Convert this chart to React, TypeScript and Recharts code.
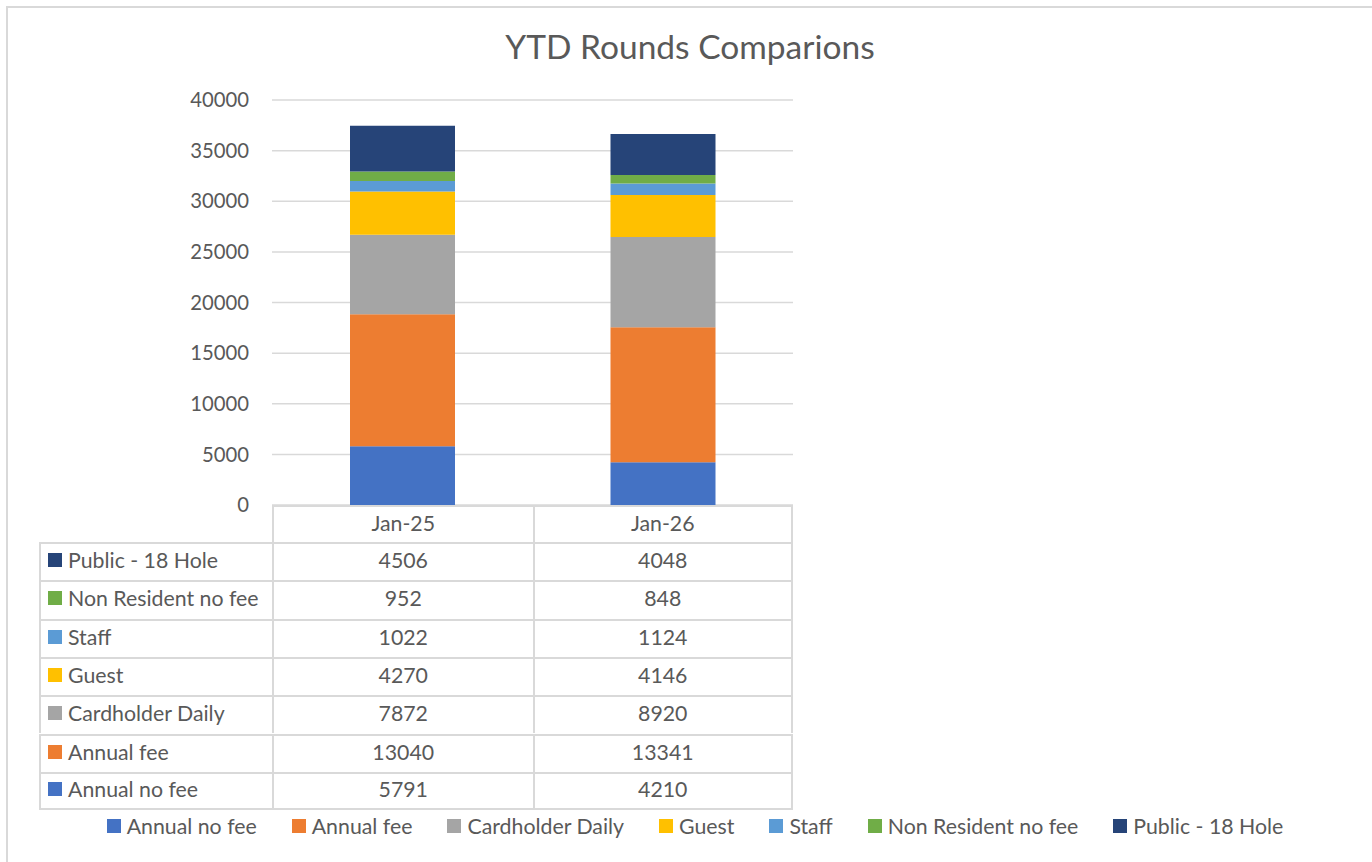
import { BarChart, Bar, XAxis, YAxis, CartesianGrid } from 'recharts'

const months = ['Jan-25', 'Jan-26']
const annualNoFee = [5791, 4210]
const annualFee = [13040, 13341]
const cardholderDaily = [7872, 8920]
const guest = [4270, 4146]
const staff = [1022, 1124]
const nonResident = [952, 848]
const public18 = [4506, 4048]
const yTicks = [0, 5000, 10000, 15000, 20000, 25000, 30000, 35000, 40000]

const series = [
  { key: 'annualNoFee', name: 'Annual no fee', values: annualNoFee, color: '#4472C4' },
  { key: 'annualFee', name: 'Annual fee', values: annualFee, color: '#ED7D31' },
  { key: 'cardholderDaily', name: 'Cardholder Daily', values: cardholderDaily, color: '#A5A5A5' },
  { key: 'guest', name: 'Guest', values: guest, color: '#FFC000' },
  { key: 'staff', name: 'Staff', values: staff, color: '#5B9BD5' },
  { key: 'nonResident', name: 'Non Resident no fee', values: nonResident, color: '#70AD47' },
  { key: 'public18', name: 'Public - 18 Hole', values: public18, color: '#264478' },
]

const data = months.map((m, i) => {
  const row: Record<string, string | number> = { month: m }
  series.forEach((s) => (row[s.key] = s.values[i]))
  return row
})

const FONT = 'Lato, "Open Sans", sans-serif'
const TEXT = '#595959'
const LINE = '#d9d9d9'

// data table geometry (below the plot)
const tLeft = 39
const tFirstCol = 233
const tCol = 260.5
const tTop = 505
const tHead = 37
const tRow = 38.3

const cellBase = { position: 'absolute' as const, boxSizing: 'border-box' as const, display: 'flex', alignItems: 'center', paddingBottom: 4 }

function DataTable() {
  const rows = [...series].reverse()
  const cells: any[] = []
  months.forEach((m, c) => {
    cells.push(
      <div key={'h' + c} style={{
        ...cellBase, left: tLeft + tFirstCol + c * tCol, top: tTop, width: tCol, height: tHead,
        borderLeft: `2px solid ${LINE}`, borderTop: `2px solid ${LINE}`, borderRight: c === months.length - 1 ? `2px solid ${LINE}` : undefined,
        justifyContent: 'center',
      }}>{m}</div>
    )
  })
  rows.forEach((s, r) => {
    const top = tTop + tHead + r * tRow
    const isLast = r === rows.length - 1
    cells.push(
      <div key={'l' + r} style={{
        ...cellBase, left: tLeft, top, width: tFirstCol, height: tRow,
        borderLeft: `2px solid ${LINE}`, borderTop: `2px solid ${LINE}`, borderBottom: isLast ? `2px solid ${LINE}` : undefined,
        paddingLeft: 7,
      }}>
        <span style={{ width: 14, height: 14, background: s.color, marginRight: 6, display: 'inline-block' }} />
        {s.name}
      </div>
    )
    s.values.forEach((v, c) => {
      cells.push(
        <div key={'c' + r + '-' + c} style={{
          ...cellBase, left: tLeft + tFirstCol + c * tCol, top, width: tCol, height: tRow,
          borderLeft: `2px solid ${LINE}`, borderTop: `2px solid ${LINE}`,
          borderRight: c === months.length - 1 ? `2px solid ${LINE}` : undefined,
          borderBottom: isLast ? `2px solid ${LINE}` : undefined,
          justifyContent: 'center',
        }}>{v}</div>
      )
    })
  })
  return <>{cells}</>
}

function ChartLegend() {
  return (
    <div style={{ position: 'absolute', top: 813, left: 0, width: 1390, display: 'flex', justifyContent: 'center', gap: 35 }}>
      {series.map((s) => (
        <div key={s.key} style={{ display: 'flex', alignItems: 'center' }}>
          <span style={{ width: 14, height: 14, background: s.color, marginRight: 6, display: 'inline-block' }} />
          {s.name}
        </div>
      ))}
    </div>
  )
}

export default function App() {
  return (
    <div style={{ position: 'absolute', left: 0, top: 0, width: 1372, height: 862, background: '#fff', overflow: 'hidden', fontFamily: FONT, color: TEXT, fontSize: 21.3 }}>
      <div style={{ position: 'absolute', left: 6, top: 6, width: 1400, height: 900, borderLeft: `2px solid ${LINE}`, borderTop: `2px solid ${LINE}` }} />
      <div style={{ position: 'absolute', left: 0, top: 26, width: 1380, textAlign: 'center', fontSize: 33.5 }}>YTD Rounds Comparions</div>
      <div style={{ position: 'absolute', left: 0, top: 0 }}>
        <BarChart width={1372} height={862} data={data} margin={{ top: 100, right: 579, bottom: 357, left: 172 }}>
          <CartesianGrid vertical={false} stroke={LINE} strokeWidth={1.5} />
          <XAxis dataKey="month" hide />
          <YAxis width={100} domain={[0, 40000]} ticks={yTicks} interval={0} axisLine={false} tickLine={false} tickSize={0} tickMargin={23}
            tick={{ fill: TEXT, fontSize: 20.3, fontFamily: FONT }} />
          {series.map((s) => (
            <Bar key={s.key} dataKey={s.key} name={s.name} stackId="a" fill={s.color} barSize={105} isAnimationActive={false} />
          ))}
        </BarChart>
      </div>
      <DataTable />
      <ChartLegend />
    </div>
  )
}
